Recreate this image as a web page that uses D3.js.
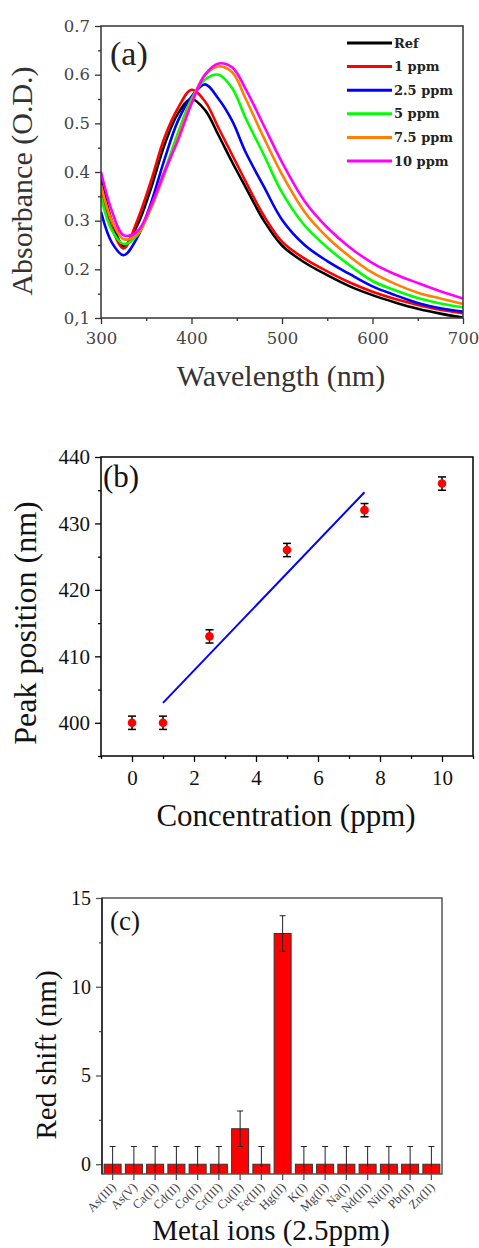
<!DOCTYPE html>
<html>
<head>
<meta charset="utf-8">
<script src="https://cdn.jsdelivr.net/npm/d3@7/dist/d3.min.js"></script>
<style>
  body { margin: 0; background: #fff; }
  text { font-family: "Liberation Serif", "Times New Roman", serif; }
</style>
</head>
<body>
<svg id="fig" width="479" height="1248"></svg>
<script>
// ---- data (a): absorbance spectra ----
const wavelengths = [300, 312, 325, 340, 355, 370, 385, 400, 415, 430, 445, 460, 480, 500, 525, 550, 575, 600, 625, 650, 675, 700];
const absRef  = [.385, .300, .248, .290, .365, .455, .520, .550, .527, .475, .420, .368, .300, .249, .214, .188, .165, .147, .132, .119, .109, .101];
const abs1    = [.360, .285, .243, .300, .380, .470, .531, .569, .545, .490, .435, .380, .310, .257, .222, .196, .173, .154, .139, .127, .117, .110];
const abs2_5  = [.318, .255, .229, .265, .335, .425, .505, .555, .580, .550, .505, .440, .370, .302, .250, .217, .190, .165, .147, .131, .120, .113];
const abs5    = [.349, .280, .252, .270, .325, .400, .480, .550, .590, .600, .572, .510, .435, .358, .290, .245, .208, .176, .157, .141, .130, .122];
const abs7_5  = [.373, .300, .262, .272, .325, .395, .470, .545, .600, .617, .605, .550, .470, .395, .318, .266, .226, .193, .170, .152, .140, .129];
const abs10   = [.400, .320, .270, .278, .330, .400, .465, .540, .600, .623, .615, .570, .495, .420, .340, .286, .245, .213, .190, .172, .155, .140];
const seriesNames = ["Ref", "1 ppm", "2.5 ppm", "5 ppm", "7.5 ppm", "10 ppm"];
const seriesColors = ["#000000", "#ff0000", "#0000ff", "#00ff00", "#ff8000", "#ff00ff"];
const absTickLabels = ["0,1", "0.2", "0.3", "0.4", "0.5", "0.6", "0.7"];

// ---- data (b): peak position ----
const concentration = [0, 1, 2.5, 5, 7.5, 10];
const peakPosition = [400, 400, 413, 426, 432, 436];
const peakError = [1, 1, 1, 1, 1, 1];
const fitX = [1, 7.5];
const fitY = [403, 434.7];

// ---- data (c): selectivity ----
const ions = ["As(III)", "As(V)", "Ca(II)", "Cd(II)", "Co(II)", "Cr(III)", "Cu(II)", "Fe(III)", "Hg(II)", "K(I)", "Mg(II)", "Na(I)", "Nd(III)", "Ni(II)", "Pb(II)", "Zn(II)"];
const redShift = [0, 0, 0, 0, 0, 0, 2, 0, 13, 0, 0, 0, 0, 0, 0, 0];
const shiftError = [1, 1, 1, 1, 1, 1, 1, 1, 1, 1, 1, 1, 1, 1, 1, 1];

const svg = d3.select("#fig");

// helper: frame + major/minor ticks
function drawAxes(g, x, y, w, h, opt) {
    const xa = g.append("g").attr("transform", `translate(0,${h})`)
        .call(d3.axisBottom(x).tickValues(opt.xMajor).tickSize(6).tickSizeOuter(0).tickFormat(opt.xFormat || d3.format("d")));
    const xm = g.append("g").attr("transform", `translate(0,${h})`)
        .call(d3.axisBottom(x).tickValues(opt.xMinor || []).tickSize(3).tickSizeOuter(0).tickFormat(""));
    const ya = g.append("g")
        .call(d3.axisLeft(y).tickValues(opt.yMajor).tickSize(6).tickSizeOuter(0).tickFormat(opt.yFormat || d3.format("d")));
    const ym = g.append("g")
        .call(d3.axisLeft(y).tickValues(opt.yMinor || []).tickSize(3).tickSizeOuter(0).tickFormat(""));
    [xa, xm, ya, ym].forEach(a => {
        a.select(".domain").remove();
        a.selectAll("line").attr("stroke", opt.color).attr("stroke-width", 1.3);
        a.selectAll("text").attr("fill", opt.textColor).style("font-family", opt.font)
            .style("font-size", opt.fontSize + "px");
    });
    xa.selectAll("text").attr("dy", opt.xdy || "0.9em");
    ya.selectAll("text").attr("dx", "-2");
    g.append("rect").attr("class", "frame").attr("width", w).attr("height", h)
        .attr("fill", "none").attr("stroke", opt.color).attr("stroke-width", 1.5);
    return {xa, ya};
}

// ================= (a) =================
{
    const m = {left: 101, top: 26}, w = 362, h = 292;
    const g = svg.append("g").attr("transform", `translate(${m.left},${m.top})`);
    const x = d3.scaleLinear().domain([300, 700]).range([0, w]);
    const y = d3.scaleLinear().domain([0.1, 0.7]).range([h, 0]);

    g.append("clipPath").attr("id", "clipA").append("rect").attr("width", w).attr("height", h);
    const data = [absRef, abs1, abs2_5, abs5, abs7_5, abs10];
    const line = d3.line().x((d, i) => x(wavelengths[i])).y(d => y(d)).curve(d3.curveCatmullRom.alpha(0.5));
    g.append("g").attr("clip-path", "url(#clipA)")
        .selectAll("path").data(data).enter().append("path")
        .attr("d", line).attr("fill", "none")
        .attr("stroke", (d, i) => seriesColors[i]).attr("stroke-width", 2.6);

    drawAxes(g, x, y, w, h, {
        xMajor: [300, 400, 500, 600, 700], xMinor: [350, 450, 550, 650],
        yMajor: [0.1, 0.2, 0.3, 0.4, 0.5, 0.6, 0.7], yMinor: [0.15, 0.25, 0.35, 0.45, 0.55, 0.65],
        yFormat: (d, i) => absTickLabels[i],
        color: "#333", textColor: "#444", font: "DejaVu Serif", fontSize: 16.5, xdy: "1.05em"
    });

    // legend
    const lg = g.selectAll(".leg").data(seriesNames).enter().append("g")
        .attr("transform", (d, i) => `translate(${347 - m.left},${43 - m.top + i * 23.6})`);
    lg.append("line").attr("x1", 0).attr("x2", 45)
        .attr("stroke", (d, i) => seriesColors[i]).attr("stroke-width", 3);
    lg.append("text").attr("x", 47).attr("dy", "0.35em").text(d => d)
        .style("font-family", "DejaVu Serif").style("font-size", "13px").style("font-weight", "bold")
        .attr("fill", "#222");

    g.append("text").attr("x", 9).attr("y", 39).text("(a)")
        .style("font-size", "34px").attr("fill", "#222");

    svg.append("text").attr("text-anchor", "middle")
        .attr("transform", "translate(281,386)")
        .style("font-size", "30px").attr("fill", "#333").text("Wavelength (nm)");
    svg.append("text").attr("text-anchor", "middle")
        .attr("transform", "translate(32,181) rotate(-90)")
        .style("font-size", "30px").attr("fill", "#333").text("Absorbance (O.D.)");
}

// ================= (b) =================
{
    const m = {left: 101, top: 457}, w = 372, h = 299;
    const g = svg.append("g").attr("transform", `translate(${m.left},${m.top})`);
    const x = d3.scaleLinear().domain([-1, 11]).range([0, w]);
    const y = d3.scaleLinear().domain([395, 440]).range([h, 0]);

    drawAxes(g, x, y, w, h, {
        xMajor: [0, 2, 4, 6, 8, 10], xMinor: [-1, 1, 3, 5, 7, 9, 11],
        yMajor: [400, 410, 420, 430, 440], yMinor: [395, 405, 415, 425, 435],
        color: "#000", textColor: "#111", font: "Liberation Serif", fontSize: 21, xdy: "0.95em"
    });

    g.append("line")
        .attr("x1", x(fitX[0])).attr("y1", y(fitY[0]))
        .attr("x2", x(fitX[1])).attr("y2", y(fitY[1]))
        .attr("stroke", "#0000ff").attr("stroke-width", 2);

    const pts = g.selectAll(".pt").data(concentration).enter().append("g");
    pts.append("line")
        .attr("x1", d => x(d)).attr("x2", d => x(d))
        .attr("y1", (d, i) => y(peakPosition[i] - peakError[i]))
        .attr("y2", (d, i) => y(peakPosition[i] + peakError[i]))
        .attr("stroke", "#000").attr("stroke-width", 1.5);
    [-1, 1].forEach(s => {
        pts.append("line")
            .attr("x1", d => x(d) - 4).attr("x2", d => x(d) + 4)
            .attr("y1", (d, i) => y(peakPosition[i] + s * peakError[i]))
            .attr("y2", (d, i) => y(peakPosition[i] + s * peakError[i]))
            .attr("stroke", "#000").attr("stroke-width", 1.5);
    });
    pts.append("circle")
        .attr("cx", d => x(d)).attr("cy", (d, i) => y(peakPosition[i]))
        .attr("r", 4.3).attr("fill", "#ff0000");

    g.append("text").attr("x", 2).attr("y", 30).text("(b)")
        .style("font-size", "31px").attr("fill", "#111");

    svg.append("text").attr("text-anchor", "middle")
        .attr("transform", "translate(286,826)")
        .style("font-size", "31px").attr("fill", "#111").text("Concentration (ppm)");
    svg.append("text").attr("text-anchor", "middle")
        .attr("transform", "translate(36,623) rotate(-90)")
        .style("font-size", "32px").attr("fill", "#111").text("Peak position (nm)");
}

// ================= (c) =================
{
    const m = {left: 102, top: 898}, w = 340, h = 276;
    const g = svg.append("g").attr("transform", `translate(${m.left},${m.top})`);
    const x = d3.scaleBand().domain(ions).range([0, w]).paddingInner(0.2).paddingOuter(0.1);
    const y = d3.scaleLinear().domain([-0.55, 15]).range([h, 0]);

    g.append("clipPath").attr("id", "clipC").append("rect").attr("width", w).attr("height", h);
    const plot = g.append("g").attr("clip-path", "url(#clipC)");

    plot.selectAll(".bar").data(ions).enter().append("rect")
        .attr("x", d => x(d)).attr("width", x.bandwidth())
        .attr("y", (d, i) => y(redShift[i]))
        .attr("height", (d, i) => h - y(redShift[i]) + 2)
        .attr("fill", "#ff0000").attr("stroke", "#333").attr("stroke-width", 1);

    const cx = d => x(d) + x.bandwidth() / 2;
    plot.selectAll(".err").data(ions).enter().append("line")
        .attr("x1", cx).attr("x2", cx)
        .attr("y1", (d, i) => y(redShift[i] - shiftError[i]))
        .attr("y2", (d, i) => y(redShift[i] + shiftError[i]))
        .attr("stroke", "#222").attr("stroke-width", 1);
    [-1, 1].forEach(s => {
        plot.selectAll(".cap" + s).data(ions).enter().append("line")
            .attr("x1", d => cx(d) - 3).attr("x2", d => cx(d) + 3)
            .attr("y1", (d, i) => y(redShift[i] + s * shiftError[i]))
            .attr("y2", (d, i) => y(redShift[i] + s * shiftError[i]))
            .attr("stroke", "#222").attr("stroke-width", 1);
    });

    drawAxes(g, x, y, w, h, {
        xMajor: ions, xFormat: () => "",
        yMajor: [0, 5, 10, 15], yMinor: [2.5, 7.5, 12.5],
        color: "#555", textColor: "#111", font: "Liberation Serif", fontSize: 20
    });
    g.append("line").attr("x1", 0).attr("x2", 0).attr("y1", 0).attr("y2", h)
        .attr("stroke", "#222").attr("stroke-width", 1.5);

    // rotated category labels
    g.selectAll(".ionLabel").data(ions).enter().append("text")
        .attr("class", "ionLabel")
        .attr("transform", d => `translate(${cx(d) + 1},${h + 11}) rotate(-45)`)
        .attr("text-anchor", "end").attr("dy", "0.35em")
        .style("font-size", "12.5px").attr("fill", "#444")
        .text(d => d);

    g.append("text").attr("x", 8).attr("y", 32).text("(c)")
        .style("font-size", "27px").attr("fill", "#111");

    svg.append("text").attr("text-anchor", "middle")
        .attr("transform", "translate(271,1240)")
        .style("font-size", "29px").attr("fill", "#111").text("Metal ions (2.5ppm)");
    svg.append("text").attr("text-anchor", "middle")
        .attr("transform", "translate(56,1055) rotate(-90)")
        .style("font-size", "29px").attr("fill", "#111").text("Red shift (nm)");
}
</script>
</body>
</html>
